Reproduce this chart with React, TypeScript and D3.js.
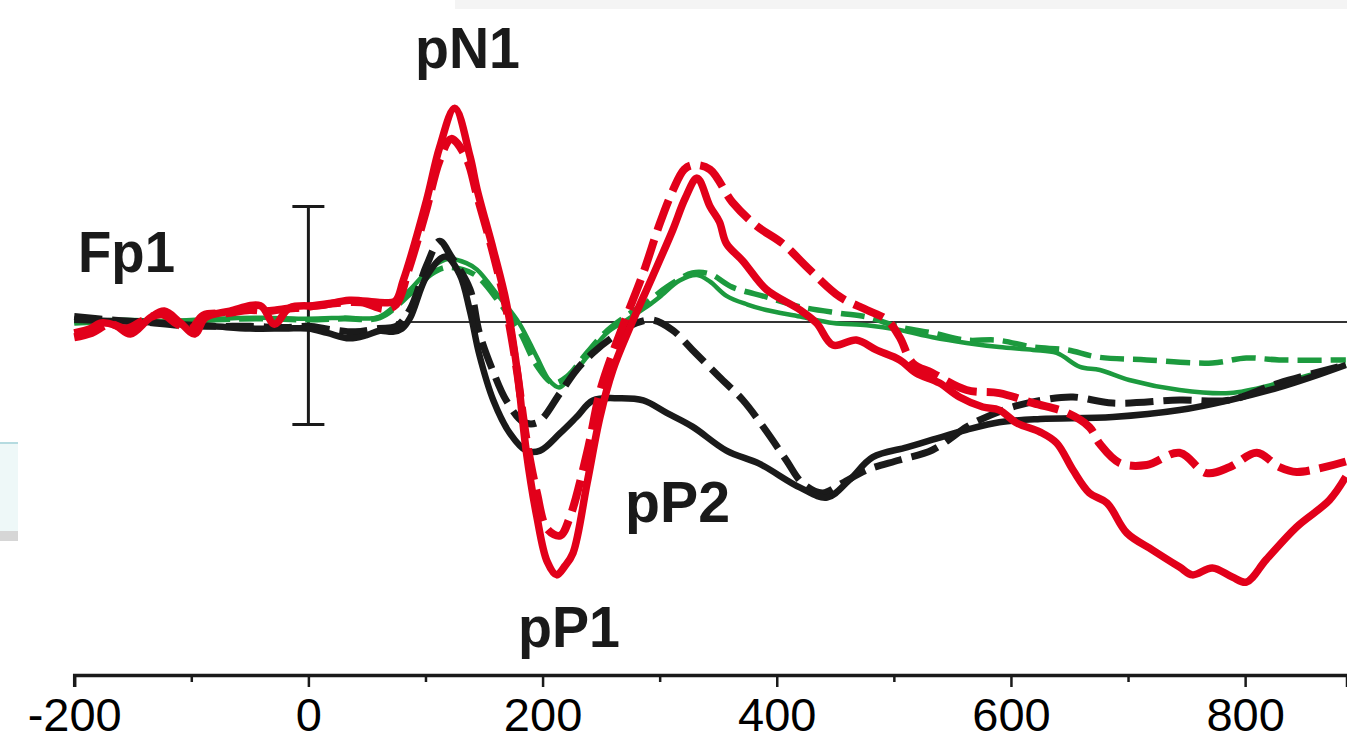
import React, { useEffect, useRef } from 'react';
import * as d3 from 'd3';

// time (ms) / amplitude (µV, negative drawn upward)
const redSolid = [
  [-200, 0.5], [-186, 0.3], [-178, 0.05], [-165, 0.15], [-152, 0.55], [-135, -0.2], [-123, -0.5],
  [-110, 0], [-97, 0.55], [-88, -0.2], [-67, -0.5], [-41, -0.75], [-29, 0.1], [-16, -0.65],
  [10, -0.75], [35, -1.0], [61, -0.9], [74, -0.95], [81, -1.9], [101, -5.6], [112, -8.0],
  [125, -9.8], [138, -7.6], [144, -6.1], [158, -3.3], [169, -0.9], [178, 2.1], [186, 5.9],
  [195, 8.9], [204, 11.0], [212, 11.6], [219, 11.2], [226, 10.6], [238, 7.4], [249, 4.36],
  [260, 2.2], [275, 0.2], [294, -2.1], [311, -4.2], [322, -5.7], [332, -6.6], [343, -5.3],
  [351, -4.6], [357, -3.6], [371, -2.8], [391, -1.5], [420, -0.55], [434, 0.05], [448, 1.06],
  [468, 0.83], [485, 1.28], [505, 1.74], [519, 2.34], [539, 2.8], [556, 3.44], [576, 3.9],
  [590, 4.04], [605, 4.63], [625, 5.05], [639, 5.55], [653, 6.79], [667, 7.84], [682, 8.3],
  [699, 9.68], [721, 10.46], [744, 11.24], [755, 11.6], [772, 11.28], [789, 11.7], [801, 11.93],
  [818, 10.9], [844, 9.4], [872, 8.17], [886, 7.1],
];

const redDashed = [
  [-200, 0.7], [-185, 0.5], [-170, 0.1], [-155, 0.3], [-140, -0.1], [-125, -0.35], [-112, 0.1],
  [-100, 0.3], [-90, -0.3], [-70, -0.4], [-50, -0.55], [-35, -0.5], [-20, -0.6], [0, -0.7],
  [20, -0.85], [45, -0.9], [65, -0.6], [75, -0.8], [85, -2.3], [100, -5.0], [112, -7.4],
  [122, -8.4], [135, -7.5], [144, -5.8], [158, -3.1], [169, -0.6], [178, 2.2], [186, 5.3],
  [195, 7.8], [204, 9.5], [215, 9.8], [223, 9.0], [238, 6.0], [249, 3.2], [260, 1.4],
  [272, -0.3], [286, -2.25], [300, -4.5], [311, -6.0], [321, -7.0], [329, -7.2], [343, -7.0],
  [362, -5.5], [383, -4.4], [405, -3.6], [428, -2.4], [454, -1.15], [477, -0.55], [494, -0.1],
  [505, 0.7], [516, 1.88], [533, 2.34], [562, 3.12], [590, 3.26], [619, 3.72], [648, 4.17],
  [667, 4.82], [676, 5.6], [693, 6.47], [716, 6.56], [744, 6.0], [767, 6.93], [787, 6.65],
  [810, 6.0], [829, 6.65], [844, 6.88], [886, 6.4],
];

const blackSolid = [
  [-200, -0.1], [-170, -0.05], [-140, 0], [-110, 0.1], [-80, 0.2], [-50, 0.3], [-20, 0.3],
  [0, 0.3], [16, 0.5], [35, 0.75], [50, 0.6], [61, 0.4], [72, 0.45], [80, 0.3], [87, -0.2],
  [101, -2.1], [117, -3.0], [129, -2.2], [138, -0.5], [146, 1.5], [158, 3.6], [172, 5.1],
  [186, 5.9], [198, 5.9], [215, 5.1], [229, 4.36], [243, 3.6], [266, 3.5], [286, 3.6],
  [306, 4.17], [328, 4.8], [357, 5.9], [385, 6.5], [420, 7.6], [443, 8.05], [462, 7.25],
  [482, 6.2], [511, 5.75], [533, 5.4], [562, 4.95], [590, 4.6], [625, 4.45], [687, 4.36],
  [744, 4.04], [787, 3.58], [829, 3.0], [857, 2.52], [886, 1.97],
];

const blackDashed = [
  [-200, -0.25], [-170, -0.1], [-140, 0], [-110, 0.15], [-80, 0.2], [-50, 0.2], [-20, 0.25],
  [0, 0.2], [20, 0.35], [40, 0.45], [60, 0.3], [75, 0.2], [87, -0.6], [101, -2.6], [112, -3.7],
  [122, -3.0], [138, -1.5], [146, 0.5], [158, 2.3], [169, 3.6], [184, 4.6], [196, 4.6],
  [215, 3.26], [229, 2.2], [243, 1.42], [260, 0.69], [280, 0.05], [294, -0.09], [311, 0.37],
  [328, 1.28], [351, 2.52], [371, 3.58], [391, 5.0], [408, 6.33], [422, 7.39], [439, 7.84],
  [456, 7.39], [477, 6.79], [505, 6.33], [533, 5.87], [562, 4.82], [573, 4.5], [601, 3.9],
  [630, 3.55], [653, 3.44], [687, 3.72], [744, 3.58], [787, 3.58], [829, 2.8], [886, 1.97],
];

const greenSolid = [
  [-200, 0], [-160, -0.1], [-120, -0.05], [-80, -0.15], [-40, -0.2], [0, -0.15], [30, -0.2],
  [61, -0.25], [87, -1.5], [105, -2.5], [120, -2.9], [135, -2.7], [144, -2.4], [163, -1.15],
  [180, 0.05], [195, 1.6], [206, 2.7], [214, 3.0], [221, 2.7], [238, 1.6], [255, 0.5],
  [272, -0.1], [289, -0.7], [300, -1.15], [317, -1.9], [332, -2.15], [343, -1.85], [357, -1.2],
  [375, -0.8], [391, -0.55], [420, -0.25], [448, 0.05], [477, 0.15], [505, 0.37], [533, 0.7],
  [562, 0.96], [590, 1.15], [619, 1.28], [639, 1.42], [659, 2.06], [676, 2.2], [701, 2.66],
  [744, 3.12], [787, 3.26], [829, 2.8], [857, 2.4], [886, 1.97],
];

const greenDashed = [
  [-200, 0.05], [-160, -0.05], [-120, 0], [-80, -0.1], [-40, -0.15], [0, -0.1], [30, -0.15],
  [61, -0.2], [87, -1.3], [105, -2.2], [117, -2.5], [132, -2.4], [144, -2.1], [163, -0.9],
  [180, 0.4], [195, 2.0], [209, 2.8], [221, 2.5], [238, 1.4], [255, 0.4], [272, -0.3],
  [289, -0.9], [306, -1.6], [328, -2.25], [343, -2.2], [362, -1.6], [391, -1.15], [420, -0.7],
  [454, -0.4], [477, -0.23], [505, 0.23], [533, 0.5], [562, 0.83], [588, 0.83], [619, 1.15],
  [648, 1.28], [673, 1.6], [716, 1.74], [772, 1.88], [801, 1.65], [829, 1.74], [886, 1.74],
];

const xTicks = d3.range(-200, 801, 100);
const scaleBar = [-5.3, 4.7];

const peakLabels = [
  { text: 'Fp1', x: 78, y: 272, w: 97 },
  { text: 'pN1', x: 415, y: 68, w: 105 },
  { text: 'pP1', x: 518, y: 647, w: 102 },
  { text: 'pP2', x: 625, y: 522, w: 105 },
];

const RED = '#e2001a';
const BLACK = '#1a1a1a';
const GREEN = '#1c9a3e';

const series = [
  { data: greenDashed, color: GREEN, width: 5.5, dash: '24 9' },
  { data: greenSolid, color: GREEN, width: 4.5, dash: null },
  { data: blackDashed, color: BLACK, width: 7, dash: '28 10' },
  { data: blackSolid, color: BLACK, width: 6.5, dash: null },
  { data: redDashed, color: RED, width: 8, dash: '32 10' },
  { data: redSolid, color: RED, width: 7.5, dash: null },
];

const W = 1347;
const H = 739;
const FONT = '"Liberation Sans", Arial, Helvetica, sans-serif';

export default function App() {
  const axisRef = useRef<SVGGElement>(null);

  const x = d3.scaleLinear().domain([-200, 887]).range([74.2, 1347]);
  const y = d3.scaleLinear().domain([0, 10]).range([322, 540]);

  const line = d3.line<number[]>()
    .x(d => x(d[0]))
    .y(d => y(d[1]))
    .curve(d3.curveCatmullRom.alpha(0.5));

  useEffect(() => {
    const g = d3.select(axisRef.current);
    g.selectAll('*').remove();
    g.call(
      d3.axisBottom(x)
        .tickValues(xTicks)
        .tickSizeOuter(0)
        .tickSize(12)
        .tickFormat(d => ((d as number) % 200 === 0 ? String(d) : ''))
    );
    g.select('.domain').attr('stroke', BLACK).attr('stroke-width', 3.5);
    g.selectAll('.tick line')
      .attr('stroke', BLACK)
      .attr('stroke-width', 2.5)
      .attr('y2', (d: any) => (d % 200 === 0 ? 12 : 7));
    g.selectAll('.tick text')
      .attr('dy', null)
      .attr('y', 56)
      .attr('fill', '#000')
      .attr('font-size', 47)
      .attr('font-family', FONT);
  }, []);

  const bx = x(0);

  return (
    <svg
      width={W}
      height={H}
      style={{ position: 'absolute', left: 0, top: 0, background: '#fff' }}
    >
      {/* screenshot leftovers */}
      <rect x={455} y={0} width={W - 455} height={9} fill="#f4f4f4" />
      <rect x={0} y={442} width={18} height={90} fill="#eef8f8" />
      <line x1={0} x2={18} y1={443} y2={443} stroke="#b5dbe0" strokeWidth={2} />
      <rect x={0} y={531} width={18} height={10} fill="#d6d6d6" />

      <line x1={x(75)} x2={W} y1={y(0)} y2={y(0)} stroke="#333" strokeWidth={2} />

      <g stroke={BLACK} strokeWidth={3}>
        <line x1={bx} x2={bx} y1={y(scaleBar[0])} y2={y(scaleBar[1])} />
        <line x1={bx - 16} x2={bx + 16} y1={y(scaleBar[0])} y2={y(scaleBar[0])} />
        <line x1={bx - 16} x2={bx + 16} y1={y(scaleBar[1])} y2={y(scaleBar[1])} />
      </g>

      {series.map((s, i) => (
        <path
          key={i}
          d={line(s.data) || ''}
          fill="none"
          stroke={s.color}
          strokeWidth={s.width}
          strokeDasharray={s.dash || undefined}
          strokeLinejoin="round"
        />
      ))}

      {peakLabels.map(l => (
        <text
          key={l.text}
          x={l.x}
          y={l.y}
          fontFamily={FONT}
          fontWeight="bold"
          fontSize={57}
          fill={BLACK}
          textLength={l.w}
          lengthAdjust="spacingAndGlyphs"
        >
          {l.text}
        </text>
      ))}

      <g ref={axisRef} transform="translate(0,675)" />
    </svg>
  );
}
